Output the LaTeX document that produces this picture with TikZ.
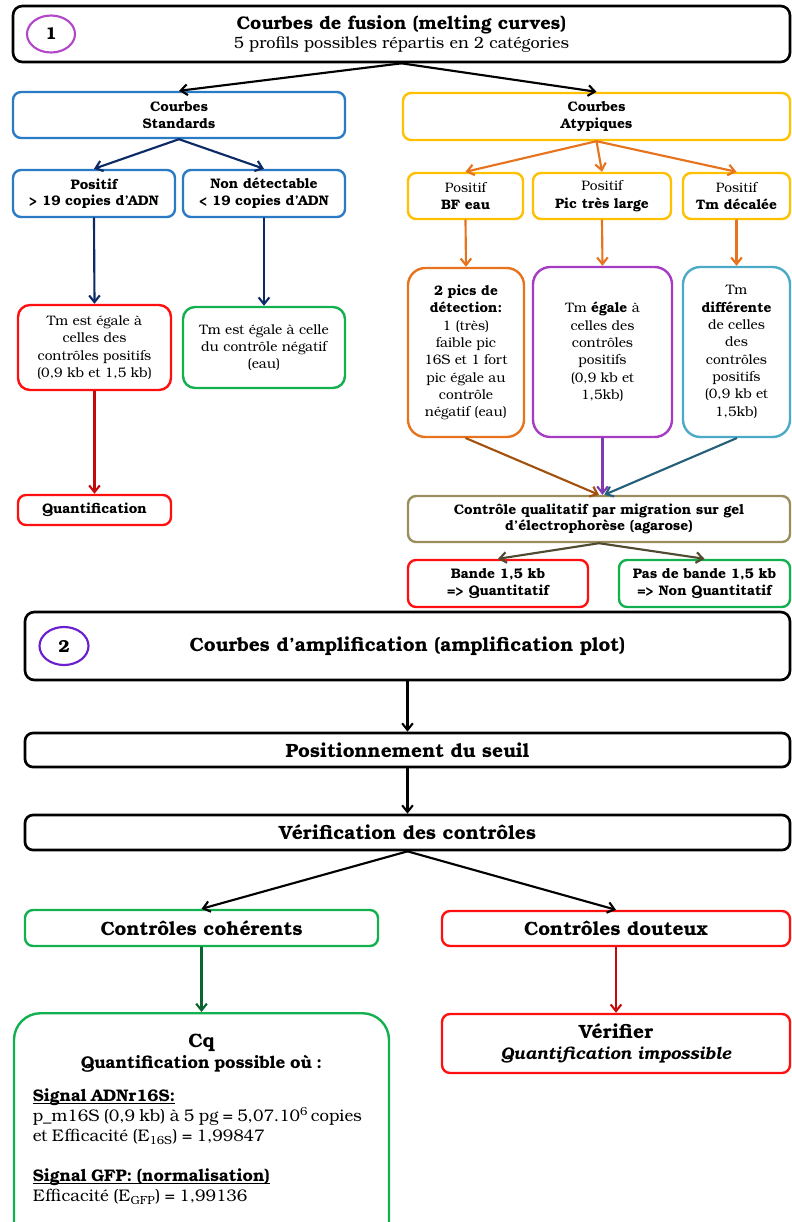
\documentclass[tikz,border=0pt]{standalone}
\usepackage{fontspec}
\setmainfont{TeX Gyre Bonum}
\usetikzlibrary{arrows.meta,shapes.geometric}
\definecolor{stdblue}{HTML}{2A7AC4}
\definecolor{navy}{HTML}{0B2A66}
\definecolor{atyyellow}{HTML}{FFC000}
\definecolor{atyorange}{HTML}{E8731E}
\definecolor{boxred}{HTML}{FF1010}
\definecolor{arrred}{HTML}{C40A0A}
\definecolor{boxgreen}{HTML}{12B04E}
\definecolor{arrgreen}{HTML}{0B6330}
\definecolor{boxpurple}{HTML}{A63BC4}
\definecolor{boxteal}{HTML}{4BAAC8}
\definecolor{arrbrown}{HTML}{A2520E}
\definecolor{arrpurple}{HTML}{7E3BB4}
\definecolor{arrteal}{HTML}{24607A}
\definecolor{olivebox}{HTML}{9A8F5C}
\definecolor{arrolive}{HTML}{4F4A30}
\definecolor{circone}{HTML}{B247C8}
\definecolor{circtwo}{HTML}{6A1ECF}
\newcommand{\ulhead}[1]{\underline{\smash{#1}}}
\tikzset{
  every picture/.style={line join=round, line cap=round, >={Straight Barb[length=5pt,width=8pt]}},
  box/.style={draw, rounded corners=6pt, line width=1.8pt, align=center, inner sep=1pt},
  tallbox/.style={box, rounded corners=13pt},
  numcirc/.style={draw, ellipse, line width=1.6pt, inner sep=0pt, font=\fontsize{13}{15}\selectfont\bfseries},
  link/.style={->, line width=1.6pt},
  smalltxt/.style={font=\fontsize{10.3}{13}\selectfont},
  smallbf/.style={font=\fontsize{10.4}{12.5}\selectfont\bfseries},
  bigbf/.style={font=\fontsize{14.4}{17}\selectfont\bfseries},
}

\begin{document}
\begin{tikzpicture}[x=0.75pt,y=-0.75pt]
\useasboundingbox (0,0) rectangle (792,1222);

% 1 : melting curves
\node[box, minimum width=582.75pt, minimum height=42pt, line width=2pt, rounded corners=7pt, font=\fontsize{12.2}{14.5}\selectfont] (title) at (401.5,34)
  {\rule{0pt}{10pt}{\fontsize{13.7}{14.5}\selectfont\bfseries Courbes de fusion (melting curves)}\\
   5 profils possibles répartis en 2 catégories};
\node[numcirc, draw=circone, minimum width=36pt, minimum height=27.75pt] (one) at (51,34) {1};

\node[box, smallbf, draw=stdblue, minimum width=249pt, minimum height=34.5pt] (std) at (179,115) {Courbes\\Standards};
\node[box, smallbf, draw=atyyellow, minimum width=290.25pt, minimum height=35.25pt] (aty) at (596.5,116.5) {Courbes\\Atypiques};

\node[box, smallbf, draw=stdblue, minimum width=121.5pt, minimum height=35.25pt] (pos) at (94,193.5) {Positif\\> 19 copies d'ADN};
\node[box, smallbf, draw=stdblue, minimum width=121.5pt, minimum height=35.25pt] (nondet) at (264,193.5) {Non détectable\\< 19 copies d'ADN};

\node[box, smalltxt, draw=atyyellow, minimum width=86.25pt, minimum height=34.5pt] (bf) at (465.5,196) {Positif\\\textbf{BF eau}};
\node[box, smalltxt, draw=atyyellow, minimum width=103.5pt, minimum height=34.5pt] (pic) at (602,196) {Positif\\\textbf{Pic très large}};
\node[box, smalltxt, draw=atyyellow, minimum width=80.25pt, minimum height=34.5pt] (tmdec) at (736.5,196) {Positif\\\textbf{Tm décalée}};

\node[box, smalltxt, draw=boxred, rounded corners=9pt, minimum width=114.75pt, minimum height=63.75pt] (tmpos) at (94.5,347.5)
  {Tm est égale à\\celles des\\contrôles positifs\\(0,9 kb et 1,5 kb)};
\node[box, smalltxt, draw=boxgreen, rounded corners=9pt, minimum width=121.5pt, minimum height=60.75pt] (tmneg) at (264,347.5)
  {Tm est égale à celle\\du contrôle négatif\\(eau)};
\node[box, smallbf, draw=boxred, minimum width=114.75pt, minimum height=22.5pt] (quant) at (94.5,510) {Quantification};

\node[tallbox, smalltxt, draw=atyorange, minimum width=87pt, minimum height=126.75pt] (pics) at (466,352.5)
  {\textbf{2 pics de}\\\textbf{détection:}\\1 (très)\\faible pic\\16S et 1 fort\\pic égale au\\contrôle\\négatif (eau)};
\node[tallbox, smalltxt, draw=boxpurple, minimum width=104.25pt, minimum height=127.5pt] (egale) at (602.5,352)
  {Tm \textbf{égale} à\\celles des\\contrôles\\positifs\\(0,9 kb et\\1,5kb)};
\node[tallbox, smalltxt, draw=boxteal, minimum width=80.25pt, minimum height=127.5pt] (diff) at (736.5,352)
  {Tm\\\textbf{différente}\\de celles\\des\\contrôles\\positifs\\(0,9 kb et\\1,5kb)};

\node[box, smallbf, draw=olivebox, minimum width=286.5pt, minimum height=34.5pt] (gel) at (599,519)
  {Contrôle qualitatif par migration sur gel\\d'électrophorèse (agarose)};
\node[box, smallbf, draw=boxred, minimum width=135pt, minimum height=35.25pt] (bande) at (498,583.5) {Bande 1,5 kb\\=> Quantitatif};
\node[box, smallbf, draw=boxgreen, minimum width=128.25pt, minimum height=35.25pt] (pasbande) at (704.5,583.5) {Pas de bande 1,5 kb\\=> Non Quantitatif};

\draw[link] (title.south) -- (std.north);
\draw[link] (title.south) -- (aty.north);
\draw[link, navy] (std.south) -- (pos.north);
\draw[link, navy] (std.south) -- (nondet.north);
\draw[link, navy] (pos.south) -- (tmpos.north);
\draw[link, navy] (nondet.south) -- (tmneg.north);
\draw[link, arrred] (tmpos.south) -- (quant.north);
\draw[link, atyorange] (aty.south) -- (bf.north);
\draw[link, atyorange] (aty.south) -- (pic.north);
\draw[link, atyorange] (aty.south) -- (tmdec.north);
\draw[link, atyorange] (bf.south) -- (pics.north);
\draw[link, atyorange] (pic.south) -- (egale.north);
\draw[link, atyorange] (tmdec.south) -- (diff.north);
\draw[link, arrbrown] (pics.south) -- (gel.north);
\draw[link, arrpurple] (egale.south) -- (egale.south |- gel.north);
\draw[link, arrteal] (diff.south) -- ([xshift=4pt]gel.north);
\draw[link, arrolive] (gel.south) -- (bande.north);
\draw[link, arrolive] (gel.south) -- (pasbande.north);

% 2 : amplification curves
\node[box, bigbf, minimum width=573.75pt, minimum height=51pt, line width=2pt, rounded corners=7pt] (amp) at (407.5,646)
  {Courbes d'amplification (amplification plot)};
\node[numcirc, draw=circtwo, minimum width=36.75pt, minimum height=28.5pt] (two) at (64,646) {2};
\node[box, bigbf, minimum width=573.75pt, minimum height=25.5pt, line width=2pt] (seuil) at (407.5,750) {Positionnement du seuil};
\node[box, bigbf, minimum width=573.75pt, minimum height=26.25pt, line width=2pt] (verif) at (407.5,832.5) {Vérification des contrôles};

\node[box, bigbf, draw=boxgreen, minimum width=264.75pt, minimum height=27pt] (coh) at (201.5,928) {Contrôles cohérents};
\node[box, bigbf, draw=boxred, minimum width=261pt, minimum height=26.25pt] (dout) at (616,928.5) {Contrôles douteux};

\node[box, draw=boxgreen, rounded corners=20pt, minimum width=281.25pt, minimum height=180pt, anchor=north] (cq) at (201.5,1012) {};
\node[anchor=north, text width=253pt, inner sep=0pt] (cqtxt) at (201.5,1034)
  {{\centering\fontsize{14.5}{16}\selectfont\bfseries Cq\par
    \fontsize{12.8}{15.5}\selectfont Quantification possible où :\par}
   \vspace{10pt}
   \raggedright\fontsize{12.6}{15}\selectfont
   \textbf{\ulhead{Signal ADNr16S:}}\\
   p\_m16S (0,9 kb) à 5 pg = 5,07.10\textsuperscript{6}\,copies\\
   et Efficacité (E\textsubscript{16S}) = 1,99847\par
   \vspace{15pt}
   \textbf{\ulhead{Signal GFP: (normalisation)}}\\
   Efficacité (E\textsubscript{GFP}) = 1,99136\par};
\node[box, draw=boxred, minimum width=261pt, minimum height=44.25pt, font=\fontsize{12.6}{16}\selectfont\bfseries] (verifier) at (616,1043.5)
  {{\fontsize{14.4}{16}\selectfont Vérifier}\\
   \itshape Quantification impossible};

\draw[link] (amp.south) -- (seuil.north);
\draw[link] (seuil.south) -- (verif.north);
\draw[link] (verif.south) -- (coh.north);
\draw[link] (verif.south) -- (dout.north);
\draw[link, arrgreen] (coh.south) -- (cq.north);
\draw[link, arrred] (dout.south) -- (verifier.north);
\end{tikzpicture}
\end{document}
